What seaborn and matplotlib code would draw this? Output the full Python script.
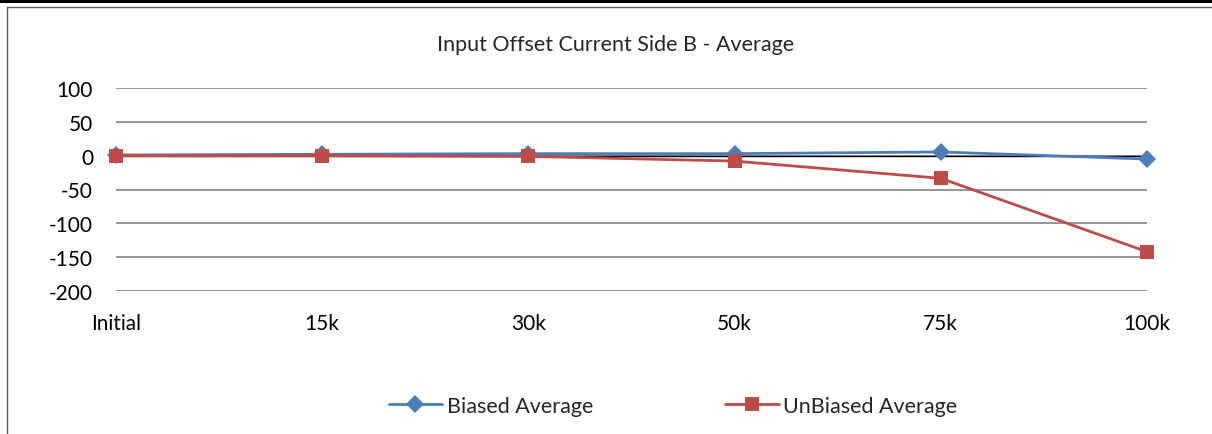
import matplotlib
matplotlib.use("Agg")
import matplotlib.pyplot as plt
import seaborn as sns
import pandas as pd
from matplotlib.lines import Line2D
from matplotlib.patches import Rectangle

# dados
stages = ['Initial', '15k', '30k', '50k', '75k', '100k']
biased = [1, 2, 3, 3, 5.5, -5]
unbiased = [0, 0, -1, -8, -33.5, -142]

df = pd.DataFrame({'stage': stages * 2,
                   'value': biased + unbiased,
                   'series': ['Biased Average'] * 6 + ['UnBiased Average'] * 6})

sns.set_style('white')
plt.rcParams['font.family'] = ['Lato', 'DejaVu Sans']
plt.rcParams['axes.unicode_minus'] = False

W, H = 1212, 435
fig = plt.figure(figsize=(W / 100, H / 100), dpi=100)
ax = fig.add_axes([116 / W, 1 - 292 / H, (1147 - 116) / W, (292 - 89) / H])

colors = {'Biased Average': '#4A7EBB', 'UnBiased Average': '#BE4B48'}
markers = {'Biased Average': 'D', 'UnBiased Average': 's'}
msizes = {'Biased Average': 9, 'UnBiased Average': 10}

for s in ['Biased Average', 'UnBiased Average']:
    sub = df[df['series'] == s]
    sns.lineplot(data=sub, x='stage', y='value', ax=ax, color=colors[s],
                 marker=markers[s], markersize=msizes[s], markeredgewidth=0,
                 linewidth=2, sort=False, label=s, zorder=3, clip_on=False)

ax.set_xlim(0, len(stages) - 1)
ax.set_ylim(-200, 100)
ax.set_yticks([100, 50, 0, -50, -100, -150, -200])
ax.yaxis.grid(True, color='#8c8c8c', linewidth=1.3)
ax.axhline(0, color='black', linewidth=1, zorder=2)
for sp in ax.spines.values():
    sp.set_visible(False)
ax.tick_params(axis='both', length=0, labelsize=15, colors='black')
ax.tick_params(axis='y', pad=16.5)
ax.tick_params(axis='x', pad=16)
ax.set_xlabel('')
ax.set_ylabel('')
ax.legend_.remove()

fig.text(616 / W, 1 - 45 / H, 'Input Offset Current Side B - Average',
         ha='center', va='center', fontsize=15.5)

handles = [Line2D([], [], color=colors[s], marker=markers[s], markersize=msizes[s],
                  markeredgewidth=0, linewidth=2) for s in colors]
fig.legend(handles, list(colors), loc='center', bbox_to_anchor=(673 / W, 1 - 407 / H),
           ncol=2, frameon=False, fontsize=15.5, handlelength=2.5, handletextpad=0.22,
           columnspacing=6.1)

# bordas do quadro
fig.add_artist(Rectangle((0, 1 - 4 / H), 1, 4 / H, transform=fig.transFigure,
                         color='black', lw=0))
fig.add_artist(Line2D([7 / W, 1], [1 - 8 / H, 1 - 8 / H], transform=fig.transFigure,
                      color='#5a5a5a', lw=1))
fig.add_artist(Line2D([7 / W, 7 / W], [0, 1 - 8 / H], transform=fig.transFigure,
                      color='#5a5a5a', lw=1))

fig.savefig('out.png', dpi=100)
